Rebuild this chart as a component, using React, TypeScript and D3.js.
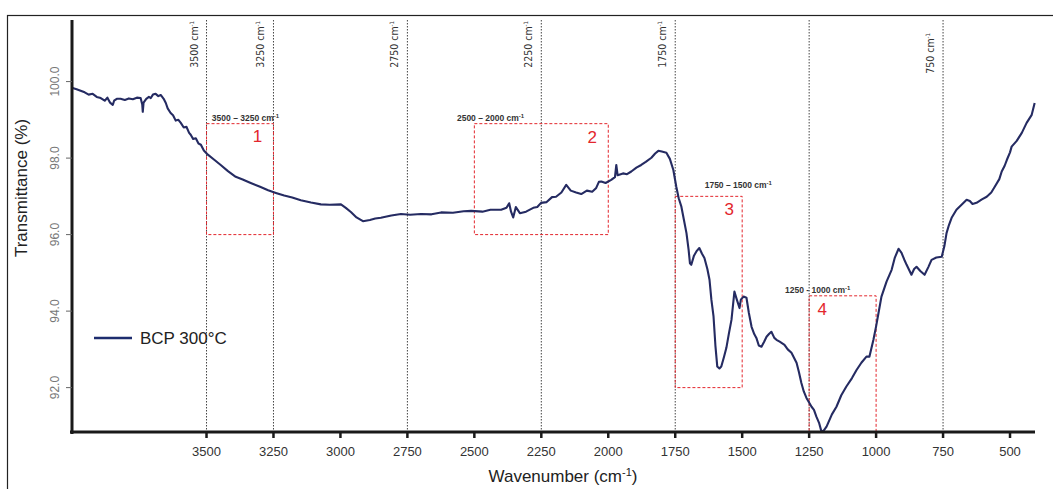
import React from "react";
import * as d3 from "d3";

const W = 1053;
const H = 489;

// Wavenumber (cm^-1)
const wavenumber = [
  4000, 3985, 3970, 3955, 3940, 3925, 3910, 3895, 3880, 3870, 3860, 3850, 3845, 3835, 3821, 3805, 3790, 3775, 3760, 3746,
  3740, 3738, 3735, 3725, 3715, 3708, 3700, 3690, 3680, 3671, 3660, 3652, 3645, 3634, 3625, 3615, 3605, 3596, 3585, 3575,
  3565, 3559, 3550, 3540, 3530, 3521, 3510, 3495, 3470, 3447, 3420, 3391, 3365, 3335, 3300, 3270, 3241, 3210, 3180, 3148,
  3110, 3073, 3040, 2998, 2980, 2961, 2940, 2916, 2890, 2870, 2849, 2810, 2774, 2740, 2699, 2660, 2624, 2580, 2540, 2512,
  2470, 2440, 2400, 2380, 2370, 2363, 2355, 2345, 2330, 2307, 2280, 2265, 2251, 2230, 2210, 2195, 2175, 2157, 2140, 2120,
  2101, 2080, 2060, 2045, 2035, 2026, 2010, 1989, 1975, 1970, 1965, 1945, 1930, 1914, 1895, 1877, 1860, 1839, 1825, 1813,
  1800, 1783, 1770, 1757, 1746, 1737, 1727, 1718, 1708, 1700, 1695, 1690, 1680, 1671, 1660, 1650, 1641, 1630, 1622, 1615,
  1607, 1600, 1593, 1585, 1578, 1568, 1559, 1550, 1540, 1529, 1520, 1510, 1505, 1495, 1484, 1475, 1465, 1455, 1447, 1438,
  1428, 1418, 1409, 1400, 1391, 1380, 1372, 1360, 1342, 1330, 1316, 1297, 1288, 1279, 1270, 1260, 1241, 1232, 1223, 1213,
  1204, 1195, 1185, 1165, 1148, 1130, 1111, 1090, 1073, 1055, 1036, 1025, 1010, 1000, 991, 980, 961, 942, 930, 916,
  905, 895, 886, 868, 858, 849, 835, 819, 805, 793, 775, 755, 745, 737, 728, 718, 700, 681, 662, 650,
  640, 625, 605, 587, 570, 557, 540, 531, 520, 512, 500, 494, 475, 456, 438, 419, 408,
];

// Transmittance (%)
const transmittance = [
  99.83, 99.8, 99.76, 99.72, 99.66, 99.68, 99.6, 99.57, 99.5, 99.58, 99.45, 99.39, 99.5, 99.55, 99.55, 99.52, 99.56, 99.54, 99.58, 99.57,
  99.4, 99.21, 99.45, 99.55, 99.6, 99.57, 99.66, 99.68, 99.62, 99.65, 99.55, 99.44, 99.3, 99.18, 99.12, 98.98, 99.0, 98.92, 98.8, 98.82,
  98.66, 98.61, 98.5, 98.52, 98.38, 98.35, 98.2, 98.09, 97.95, 97.82, 97.66, 97.51, 97.44, 97.35, 97.25, 97.16, 97.09, 97.02, 96.97, 96.9,
  96.84, 96.79, 96.78, 96.79, 96.7, 96.59, 96.45, 96.35, 96.38, 96.42, 96.44, 96.5, 96.54, 96.52, 96.54, 96.53, 96.58, 96.57, 96.61, 96.62,
  96.6, 96.65, 96.65, 96.7, 96.82, 96.6, 96.45, 96.72, 96.56, 96.6, 96.7, 96.72, 96.83, 96.85, 96.98, 96.99, 97.1, 97.3, 97.15, 97.1,
  97.06, 97.15, 97.12, 97.22, 97.38, 97.39, 97.35, 97.43, 97.5, 97.82, 97.55, 97.6, 97.58, 97.65, 97.75, 97.82, 97.9, 98.01, 98.12, 98.19,
  98.17, 98.14, 97.98, 97.69, 97.25, 96.95, 96.73, 96.4, 96.04, 95.6, 95.25, 95.21, 95.45, 95.56, 95.65, 95.5, 95.39, 95.1, 94.82, 94.3,
  93.86, 93.1, 92.55, 92.5, 92.55, 92.8, 93.04, 93.4, 93.77, 94.51, 94.3, 94.08, 94.3, 94.38, 94.35, 93.95, 93.59, 93.4, 93.3, 93.1,
  93.07, 93.2, 93.33, 93.4, 93.46, 93.3, 93.25, 93.2, 93.12, 93.0, 92.91, 92.65, 92.4, 92.12, 91.9, 91.73, 91.5, 91.42, 91.24, 91.08,
  90.85, 90.88, 90.98, 91.3, 91.5, 91.8, 92.03, 92.25, 92.46, 92.65, 92.81, 92.81, 93.25, 93.6, 93.95, 94.38, 94.77, 95.08, 95.4, 95.63,
  95.52, 95.35, 95.21, 94.95, 95.1, 95.16, 95.05, 94.95, 95.15, 95.34, 95.4, 95.42, 95.7, 96.04, 96.25, 96.44, 96.65, 96.78, 96.91, 96.88,
  96.8, 96.83, 96.92, 96.99, 97.1, 97.25, 97.45, 97.65, 97.8, 97.95, 98.15, 98.3, 98.45, 98.66, 98.92, 99.13, 99.44,
];

const xTicks = [3500, 3250, 3000, 2750, 2500, 2250, 2000, 1750, 1500, 1250, 1000, 750, 500];
const yTicks = [100, 98, 96, 94, 92];

// vertical reference lines and their labels (null = no label)
const refLines = [3500, 3250, 2750, 2250, 1750, 1250, 750];
const refLabels = ["3500", "3250", "2750", "2250", "1750", null, "750"];

// highlighted regions
const regionWn = [[3500, 3250], [2500, 2000], [1750, 1500], [1250, 1000]];
const regionT = [[98.9, 96.0], [98.9, 96.0], [97.0, 92.0], [94.4, 90.85]];
const regionText = ["3500 – 3250 cm", "2500 – 2000 cm", "1750 – 1500 cm", "1250 - 1000 cm"];
const regionNum = ["1", "2", "3", "4"];

const seriesName = "BCP 300°C";

export default function App() {
  const x = d3.scaleLinear().domain([4000, 400]).range([72.6, 1036.8]);
  const y = d3.scaleLinear().domain([90.84, 101.61]).range([432, 20]);

  const pts = wavenumber.map((w, i) => [w, transmittance[i]] as [number, number]);
  const line = d3
    .line<[number, number]>()
    .x((d) => x(d[0]))
    .y((d) => y(d[1]))
    .curve(d3.curveLinear);

  const sans = "'Liberation Sans', Arial, Helvetica, sans-serif";
  const narrow = "'Liberation Sans Narrow', 'DejaVu Sans Condensed', 'Liberation Sans', Arial, sans-serif";
  const red = "#e3262d";

  const numPos = [
    { dx: -16, dy: 18, from: "right" },
    { dx: -16, dy: 19, from: "right" },
    { dx: -13, dy: 19, from: "right" },
    { dx: 13, dy: 19, from: "left" },
  ];
  const textPos = [
    { x0: 3480, dy: -3 },
    { x0: 2565, dy: -3 },
    { x0: 1640, dy: -8 },
    { x0: 1340, dy: -3 },
  ];

  return (
    <svg
      width={W}
      height={H}
      style={{ position: "absolute", left: 0, top: 0, background: "#fff" }}
      fontFamily={sans}
    >
      <rect x={7.5} y={15.5} width={1200} height={600} fill="none" stroke="#222" strokeWidth={1.2} />

      {refLines.map((w) => (
        <line
          key={"r" + w}
          x1={x(w)}
          x2={x(w)}
          y1={20}
          y2={432}
          stroke="#444"
          strokeWidth={1}
          strokeDasharray="1.5,1.5"
        />
      ))}
      {refLines.map((w, i) =>
        refLabels[i] ? (
          <text
            key={"rl" + w}
            transform={`translate(${x(w) - 9},${w === 750 ? 33 : 21}) rotate(-90)`}
            textAnchor="end"
            fontSize={10.5}
            fontFamily={narrow}
            fill="#333"
          >
            {refLabels[i]} cm
            <tspan fontSize={6} dy={-4}>-1</tspan>
          </text>
        ) : null
      )}

      {regionWn.map((r, i) => {
        const x1 = x(r[0]);
        const x2 = x(r[1]);
        const y1 = y(regionT[i][0]);
        const y2 = y(regionT[i][1]);
        const np = numPos[i];
        return (
          <g key={"reg" + i}>
            <rect
              x={x1}
              y={y1}
              width={x2 - x1}
              height={y2 - y1}
              fill="none"
              stroke={red}
              strokeWidth={1}
              strokeDasharray="3,2"
            />
            <text x={x(textPos[i].x0)} y={y1 + textPos[i].dy} fontSize={8.5} fontWeight="bold" fill="#333">
              {regionText[i]}
              <tspan fontSize={6} dy={-3}>-1</tspan>
            </text>
            <text
              x={(np.from === "right" ? x2 : x1) + np.dx}
              y={y1 + np.dy}
              textAnchor="middle"
              fontSize={17}
              fill={red}
            >
              {regionNum[i]}
            </text>
          </g>
        );
      })}

      <path d={line(pts) || ""} fill="none" stroke="#252b62" strokeWidth={2.1} strokeLinejoin="round" />

      <line x1={72} x2={72} y1={20} y2={434} stroke="#1a1a1a" strokeWidth={3} />
      <line x1={70} x2={1035} y1={432} y2={432} stroke="#1a1a1a" strokeWidth={3} />

      {xTicks.map((t) => (
        <g key={"xt" + t}>
          <line x1={x(t)} x2={x(t)} y1={432} y2={438} stroke="#1a1a1a" strokeWidth={2.5} />
          <text x={x(t)} y={456} textAnchor="middle" fontSize={13} fill="#333">
            {t}
          </text>
        </g>
      ))}
      {yTicks.map((t) => (
        <g key={"yt" + t}>
          <line x1={66} x2={72} y1={y(t)} y2={y(t)} stroke="#666" strokeWidth={1} />
          <text transform={`translate(${59},${y(t)}) rotate(-90)`} textAnchor="middle" fontSize={12} fill="#777">
            {t.toFixed(1)}
          </text>
        </g>
      ))}

      <text x={563} y={482} textAnchor="middle" fontSize={17} fill="#222">
        Wavenumber (cm
        <tspan fontSize={11} dy={-6}>-1</tspan>
        <tspan dy={6}>)</tspan>
      </text>
      <text transform={`translate(${27},${188}) rotate(-90)`} textAnchor="middle" fontSize={17} fill="#222">
        Transmittance (%)
      </text>

      <line x1={94} x2={132} y1={338} y2={338} stroke="#1d2c6e" strokeWidth={2.5} />
      <text x={140} y={344} fontSize={17} fill="#222">
        {seriesName}
      </text>
    </svg>
  );
}
